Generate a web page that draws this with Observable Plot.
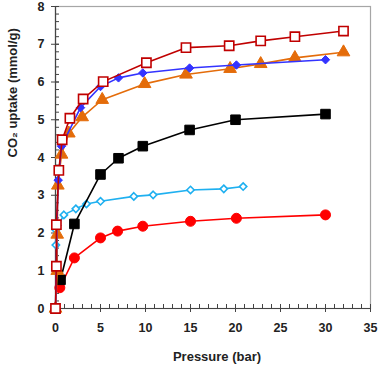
<!DOCTYPE html>
<html>
<head>
<meta charset="utf-8">
<script src="https://cdn.jsdelivr.net/npm/d3@7"></script>
<script src="https://cdn.jsdelivr.net/npm/@observablehq/plot@0.6"></script>
<style>
  html, body { margin: 0; padding: 0; background: #fff; }
  #chart { width: 380px; height: 368px; }
</style>
</head>
<body>
<div id="chart"></div>
<script>
// Data: [pressure (bar), CO2 uptake (mmol/g)]
const darkRedSquares = [[0,0],[0.1,1.12],[0.1,2.22],[0.37,3.66],[0.74,4.47],[1.6,5.04],[3.07,5.55],[5.3,6.01],[10.1,6.51],[14.5,6.91],[19.3,6.96],[22.8,7.09],[26.6,7.2],[32,7.35]];
const blueDiamonds = [[0,0],[0.1,1.1],[0.15,2.2],[0.3,3.4],[0.67,4.3],[2.78,5.32],[5.0,5.88],[7.0,6.11],[9.7,6.24],[14.9,6.37],[20.1,6.45],[30.0,6.59]];
const orangeTriangles = [[0,0],[0.19,1.0],[0.19,1.96],[0.26,3.26],[0.67,4.08],[1.48,4.64],[2.96,5.07],[5.19,5.53],[9.9,5.95],[14.5,6.2],[19.4,6.35],[22.8,6.48],[26.6,6.64],[32.0,6.79]];
const blackSquares = [[0.56,0.76],[2.1,2.24],[5.0,3.55],[7.0,3.98],[9.7,4.3],[14.9,4.73],[20.0,5.0],[30.0,5.15]];
const lightBlueDiamonds = [[0.04,1.68],[0.04,2.08],[0.93,2.48],[2.26,2.64],[3.44,2.77],[5.0,2.84],[8.7,2.97],[10.85,3.01],[15.0,3.14],[18.7,3.17],[20.85,3.23]];
const redCircles = [[0.48,0.55],[2.1,1.34],[5.0,1.87],[6.9,2.05],[9.7,2.18],[15.0,2.31],[20.1,2.39],[30.0,2.48]];

const xMajor = [0,5,10,15,20,25,30,35];
const xMinor = d3.range(0, 36, 1);
const yMajor = [0,1,2,3,4,5,6,7,8];
const yMinor = d3.range(0, 8.01, 0.2).map(v => +v.toFixed(1));
const xLabel = "Pressure (bar)";
const yLabel = "CO\u2082 uptake (mmol/g)";

const W = 380, H = 368, mL = 55, mR = 10, mT = 6, mB = 60;
const frameW = W - mL - mR, frameH = H - mT - mB;

function series(data, color, symbol, r, fill, sw) {
  return [
    Plot.line(data, {x: d => d[0], y: d => d[1], stroke: color, strokeWidth: 1.6}),
    Plot.dot(data, {x: d => d[0], y: d => d[1], symbol, r, fill, stroke: color, strokeWidth: sw})
  ];
}

const chart = Plot.plot({
  width: W, height: H,
  marginLeft: mL, marginRight: mR, marginTop: mT, marginBottom: mB,
  style: {fontFamily: "'Liberation Sans', Arial, sans-serif", background: "#fff"},
  x: {domain: [0, 35]},
  y: {domain: [0, 8]},
  marks: [
    Plot.frame({stroke: "#a6a6a6", strokeWidth: 1.2}),
    Plot.tickX(xMinor, {x: d => d, insetTop: frameH - 4, stroke: "#444", strokeWidth: 1}),
    Plot.tickX(xMajor, {x: d => d, insetTop: frameH - 4, insetBottom: -4, stroke: "#444", strokeWidth: 1}),
    Plot.tickY(yMinor, {y: d => d, insetRight: frameW - 4, stroke: "#444", strokeWidth: 1}),
    Plot.tickY(yMajor, {y: d => d, insetRight: frameW - 4, insetLeft: -4, stroke: "#444", strokeWidth: 1}),
    Plot.ruleX([0], {stroke: "#444", strokeWidth: 1.2}),
    Plot.ruleY([0], {stroke: "#444", strokeWidth: 1.2}),
    Plot.axisX({ticks: xMajor, tickSize: 0, tickPadding: 15, fontSize: 12.5, fontWeight: "bold", label: null, fill: "#222"}),
    Plot.axisY({ticks: yMajor, tickSize: 0, tickPadding: 11, fontSize: 12.5, fontWeight: "bold", label: null, fill: "#222"}),
    Plot.text([xLabel], {text: d => d, frameAnchor: "bottom", dy: 48, dx: 4, fontSize: 13, fontWeight: "bold", fill: "#222", lineAnchor: "middle"}),
    Plot.text([yLabel], {text: d => d, frameAnchor: "left", dx: -43, rotate: -90, fontSize: 13, fontWeight: "bold", fill: "#222", lineAnchor: "middle"}),
    ...series(redCircles, "#ff0000", "circle", 5, "#ff0000", 1),
    ...series(lightBlueDiamonds, "#1fb0f0", "diamond2", 3.3, "#fff", 1.6),
    ...series(blackSquares, "#000", "square", 5.4, "#000", 1),
    ...series(orangeTriangles, "#e46c0a", "triangle", 4.7, "#e46c0a", 1),
    ...series(blueDiamonds, "#3333ff", "diamond2", 3.8, "#3333ff", 1),
    ...series(darkRedSquares, "#c00000", "square", 5.2, "#fff", 1.6)
  ]
});
document.getElementById("chart").appendChild(chart);
</script>
</body>
</html>
